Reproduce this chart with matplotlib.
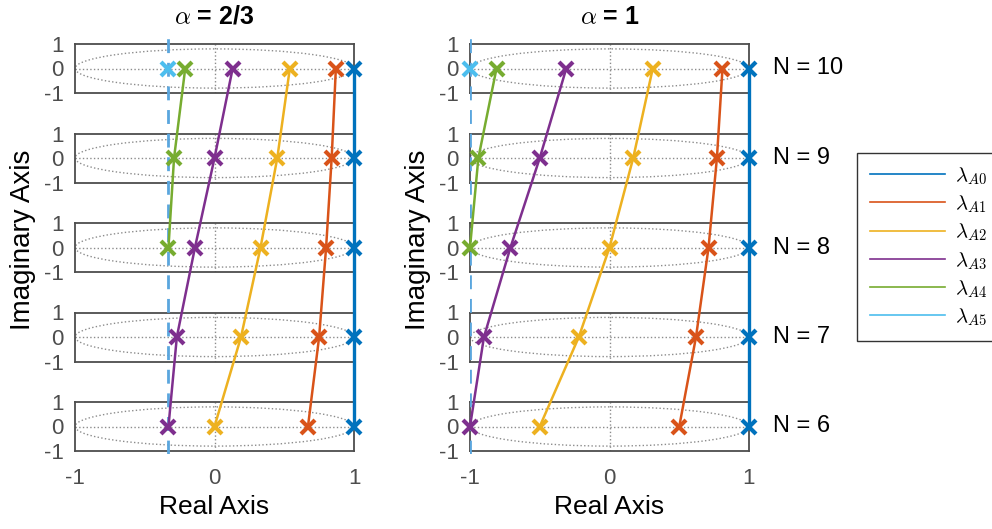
import numpy as np
import matplotlib.pyplot as plt
from matplotlib.patches import Ellipse
from matplotlib.lines import Line2D

plt.rcParams['font.family'] = ['Liberation Sans', 'DejaVu Sans']
plt.rcParams['mathtext.fontset'] = 'cm'

# N for each row, top to bottom
N_vals = [10, 9, 8, 7, 6]

# eigenvalue real parts, alpha = 2/3 (None = not present)
a23_A0 = [1.00, 1.00, 1.00, 1.00, 1.00]
a23_A1 = [0.87, 0.84, 0.80, 0.75, 0.67]
a23_A2 = [0.54, 0.45, 0.33, 0.19, 0.00]
a23_A3 = [0.13, 0.00, -0.14, -0.27, -0.33]
a23_A4 = [-0.21, -0.29, -0.33, None, None]
a23_A5 = [-0.33, None, None, None, None]

# eigenvalue real parts, alpha = 1
a1_A0 = [1.00, 1.00, 1.00, 1.00, 1.00]
a1_A1 = [0.81, 0.77, 0.71, 0.62, 0.50]
a1_A2 = [0.31, 0.17, 0.00, -0.22, -0.50]
a1_A3 = [-0.31, -0.50, -0.71, -0.90, -1.00]
a1_A4 = [-0.81, -0.94, -1.00, None, None]
a1_A5 = [-1.00, None, None, None, None]

bounds = [-1/3, -1.0]
titles = [r'$\alpha$ = 2/3', r'$\alpha$ = 1']
legend_labels = [r'$\lambda_{A0}$', r'$\lambda_{A1}$', r'$\lambda_{A2}$',
                 r'$\lambda_{A3}$', r'$\lambda_{A4}$', r'$\lambda_{A5}$']
colors = ['#0072BD', '#D95319', '#EDB120', '#7E2F8E', '#77AC30', '#4DBEEE']

W, H = 992, 529
fig = plt.figure(figsize=(W / 100, H / 100), dpi=100)

col_left = [75, 470]
col_w = 279
grey = '#4D4D4D'

columns = [[a23_A0, a23_A1, a23_A2, a23_A3, a23_A4, a23_A5],
           [a1_A0, a1_A1, a1_A2, a1_A3, a1_A4, a1_A5]]

for c in range(2):
    left = col_left[c] / W
    for i, N in enumerate(N_vals):
        center = 68.5 + 89.5 * i
        ax = fig.add_axes([left, 1 - (center + 24.5) / H, col_w / W, 49 / H])
        ax.set_xlim(-1, 1)
        ax.set_ylim(-1, 1)
        ax.add_patch(Ellipse((0, 0), 2, 1.6, fill=False, ls=':', lw=1, ec='#8C8C8C'))
        ax.axhline(0, ls=':', lw=1, color='#8C8C8C')
        ax.axvline(0, ls=':', lw=1, color='#8C8C8C')
        for s in ax.spines.values():
            s.set_color(grey)
            s.set_linewidth(1.3)
        ax.set_yticks([-1, 0, 1])
        ax.set_yticklabels(['-1', '0', '1'])
        ax.tick_params(length=0, labelsize=16, colors=grey, pad=8)
        if i == 4:
            ax.set_xticks([-1, 0, 1])
            ax.set_xticklabels(['-1', '0', '1'])
            ax.tick_params(axis='x', pad=12)
        else:
            ax.set_xticks([])
        if c == 1:
            fig.text(773 / W, 1 - center / H, f'N = {N}', fontsize=17,
                     ha='left', va='center')

    # overlay for the curves across rows
    top_px, bot_px = 33, 454
    ov = fig.add_axes([left, 1 - bot_px / H, col_w / W, (bot_px - top_px) / H])
    ov.set_xlim(-1, 1)
    ov.set_ylim(6 - (bot_px - 426.5) / 89.5, 10 + (68.5 - top_px) / 89.5)
    ov.set_axis_off()
    ov.patch.set_visible(False)
    ov.axvline(bounds[c], color='#5AA6DE', lw=2, ls=(0, (5, 3.5)))
    for k, vals in enumerate(columns[c]):
        xs = [v for v in vals if v is not None]
        ns = [n for n, v in zip(N_vals, vals) if v is not None]
        ov.plot(xs, ns, color=colors[k], lw=1.8 if k else 2.4, clip_on=False)
        ov.plot(xs, ns, ls='none', marker='x', ms=10.5, mew=3,
                color=colors[k], clip_on=False, zorder=5)

    fig.text((col_left[c] + col_w / 2) / W, 1 - 17 / H, titles[c],
             fontsize=18, fontweight='bold', ha='center', va='center')
    fig.text((col_left[c] + col_w / 2) / W, 1 - 514 / H, 'Real Axis',
             fontsize=19, ha='center', va='baseline')
    fig.text((col_left[c] - 52) / W, 1 - 240 / H, 'Imaginary Axis',
             fontsize=20, rotation=90, ha='center', va='center')

handles = [Line2D([], [], color=col, lw=1.2) for col in colors]
fig.legend(handles, legend_labels, loc='upper left',
           bbox_to_anchor=(857 / W, 1 - 153 / H), fontsize=15,
           frameon=True, fancybox=False, edgecolor='black',
           handlelength=3.6, labelspacing=0.32, borderpad=0.6,
           borderaxespad=0, handletextpad=0.5)

fig.savefig('out.png', dpi=100)
